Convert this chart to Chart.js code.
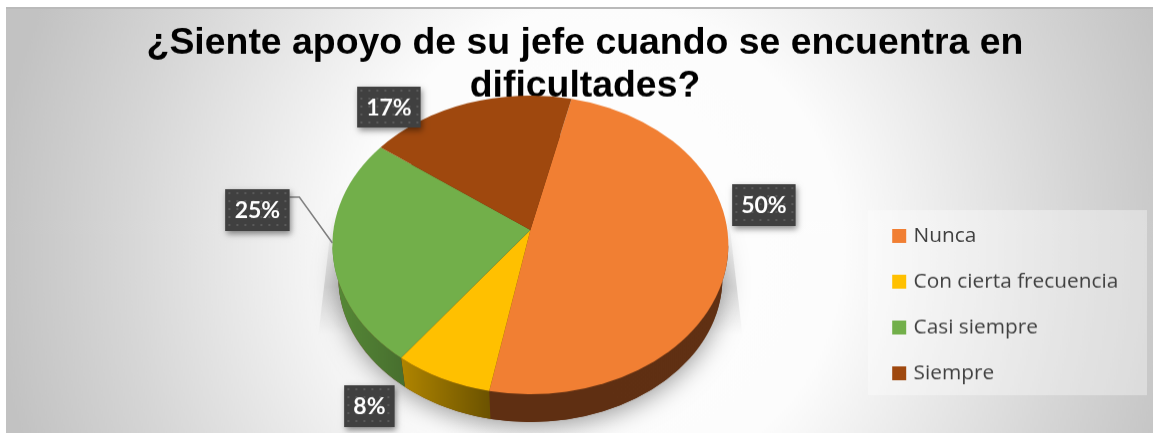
<!DOCTYPE html>
<html>
<head>
<meta charset="utf-8">
<title>Apoyo del jefe</title>
<script src="https://cdn.jsdelivr.net/npm/chart.js@4"></script>
<style>
    html, body { margin: 0; background: #fff; overflow: hidden; }
    #chart { position: absolute; left: 6px; top: 7px; border-top: 2px solid #bababa; }
</style>
</head>
<body>
<canvas id="chart" width="1147" height="426"></canvas>
<script>
const titleLines = ['¿Siente apoyo de su jefe cuando se encuentra en', 'dificultades?'];
const categories = ['Nunca', 'Con cierta frecuencia', 'Casi siempre', 'Siempre'];
const percentages = [50, 8, 25, 17];
const sliceColors = ['#f17f33', '#ffc000', '#72af4a', '#9f480e'];
const wallColors = [['#5f2f12', '#603013'], ['#b08500', '#6c5300'], ['#578a37', '#48702f'], ['#5f2f12', '#5f2f12']];

// label box offsets from the pie centre
const labelBoxes = [
    { dx: 202, dy: -61, w: 63, h: 42 },
    { dx: -186, dy: 141, w: 50, h: 42 },
    { dx: -305, dy: -56, w: 64, h: 42 },
    { dx: -173, dy: -159, w: 63, h: 41 }
];

// the tilted pie, as fractions of the radius the library computes
const tilt = { faceRx: 1.404, faceRy: 1.064, apexY: -0.106, baseY: 0.234, baseRx: 1.362, baseRy: 1.028 };

const ctx = document.querySelector('#chart').getContext('2d');

function dotPattern() {
    const tile = document.createElement('canvas');
    tile.width = tile.height = 8;
    const t = tile.getContext('2d');
    t.fillStyle = '#404040';
    t.fillRect(0, 0, 8, 8);
    t.fillStyle = '#5a5a5a';
    t.fillRect(3, 3, 2, 2);
    return ctx.createPattern(tile, 'repeat');
}

function drawBackground(chart) {
    const c = chart.ctx;
    const bg = c.createRadialGradient(594, 241, 0, 594, 241, 610);
    bg.addColorStop(0, '#ffffff');
    bg.addColorStop(0.4, '#fcfcfc');
    bg.addColorStop(0.78, '#d6d6d6');
    bg.addColorStop(1, '#c2c2c2');
    c.fillStyle = bg;
    c.fillRect(0, 0, chart.width, chart.height);
    c.fillStyle = 'rgba(255,255,255,0.35)';
    c.fillRect(862, 202, 279, 186);
}

function drawWalls(c, arcs, cx, cy, r) {
    const baseCy = cy + tilt.baseY * r;
    arcs.forEach((arc, i) => {
        const from = Math.max(arc.startAngle, 0);
        const to = Math.min(arc.endAngle, Math.PI);
        if (to <= from) return;
        const x0 = cx + tilt.faceRx * r * Math.cos(to);
        const x1 = cx + tilt.faceRx * r * Math.cos(from);
        const wall = c.createLinearGradient(x0, 0, x1, 0);
        wall.addColorStop(0, wallColors[i][0]);
        wall.addColorStop(1, wallColors[i][1]);
        c.beginPath();
        c.ellipse(cx, cy, tilt.faceRx * r, tilt.faceRy * r, 0, from, to);
        c.ellipse(cx, baseCy, tilt.baseRx * r, tilt.baseRy * r, 0, to, from, true);
        c.closePath();
        c.fillStyle = wall;
        c.fill();
    });
}

function drawPieShadow(c, cx, cy, r) {
    const baseCy = cy + tilt.baseY * r;
    const fade = c.createLinearGradient(0, cy - 30, 0, cy + 90);
    fade.addColorStop(0, 'rgba(0,0,0,0)');
    fade.addColorStop(0.6, 'rgba(0,0,0,0.12)');
    fade.addColorStop(1, 'rgba(0,0,0,0)');
    c.fillStyle = fade;
    c.beginPath();
    c.moveTo(cx - tilt.faceRx * r, cy - 30);
    c.lineTo(cx - tilt.faceRx * r - 14, cy + 90);
    c.lineTo(cx + tilt.faceRx * r + 14, cy + 90);
    c.lineTo(cx + tilt.faceRx * r, cy - 30);
    c.closePath();
    c.fill();

    c.save();
    c.shadowColor = 'rgba(0,0,0,0.38)';
    c.shadowBlur = 24;
    c.shadowOffsetY = 5;
    c.fillStyle = '#5f2f12';
    c.beginPath();
    c.ellipse(cx, baseCy, tilt.baseRx * r, tilt.baseRy * r, 0, 0, Math.PI * 2);
    c.fill();
    c.restore();
}

function drawLabels(c, cx, cy) {
    // leader line of the 25% label
    c.strokeStyle = '#7f7f7f';
    c.lineWidth = 1.5;
    c.beginPath();
    c.moveTo(cx - 241, cy - 48);
    c.lineTo(cx - 231, cy - 48);
    c.lineTo(cx - 198, cy - 2);
    c.stroke();

    const dots = dotPattern();
    percentages.forEach((value, i) => {
        const b = labelBoxes[i];
        const x = cx + b.dx;
        const y = cy + b.dy;
        c.save();
        c.shadowColor = 'rgba(0,0,0,0.45)';
        c.shadowBlur = 6;
        c.shadowOffsetX = 2;
        c.shadowOffsetY = 3;
        c.fillStyle = '#404040';
        c.fillRect(x, y, b.w, b.h);
        c.restore();
        c.save();
        c.translate(x, y);
        c.fillStyle = dots;
        c.fillRect(0, 0, b.w, b.h);
        c.restore();
        c.fillStyle = '#ffffff';
        c.font = 'bold 23px Lato';
        c.textAlign = 'center';
        c.textBaseline = 'middle';
        c.fillText(value + '%', x + b.w / 2, y + b.h / 2 + 1);
    });
}

const tiltedPie = {
    id: 'tiltedPie',
    beforeDraw: drawBackground,
    afterLayout(chart) {
        // title and legend sit independently of the pie's area
        chart.titleBlock.left = 0;
        chart.titleBlock.right = 1158;
        chart.legend.left = 864;
        chart.legend.top = 192.5;
        chart.legend.bottom = chart.height;
    },
    beforeDatasetsDraw(chart) {
        const arcs = chart.getDatasetMeta(0).data;
        const { x: cx, y: cy, outerRadius: r } = arcs[0];
        const c = chart.ctx;
        const apexY = cy + tilt.apexY * r;
        c.save();
        drawPieShadow(c, cx, cy, r);
        drawWalls(c, arcs, cx, cy, r);
        arcs.forEach((arc, i) => {
            c.beginPath();
            c.moveTo(cx, apexY);
            c.ellipse(cx, cy, tilt.faceRx * r, tilt.faceRy * r, 0, arc.startAngle, arc.endAngle);
            c.closePath();
            c.fillStyle = sliceColors[i];
            c.fill();
        });
        c.restore();
        return false;
    },
    afterDraw(chart) {
        const { x: cx, y: cy } = chart.getDatasetMeta(0).data[0];
        chart.ctx.save();
        drawLabels(chart.ctx, cx, cy);
        chart.ctx.restore();
    }
};

new Chart(ctx, {
    type: 'pie',
    data: {
        labels: categories,
        datasets: [{
            data: percentages,
            backgroundColor: sliceColors,
            borderWidth: 0,
            rotation: 12
        }]
    },
    options: {
        responsive: false,
        animation: false,
        layout: { padding: { left: 160, bottom: 48 } },
        plugins: {
            tooltip: { enabled: false },
            title: {
                display: true,
                text: titleLines,
                color: '#000000',
                font: { family: 'Liberation Sans', size: 37.4, weight: 'bold', lineHeight: 1.15 },
                padding: { top: 13, bottom: -3 }
            },
            legend: {
                position: 'right',
                align: 'start',
                labels: {
                    boxWidth: 8,
                    boxHeight: 8,
                    padding: 25.2,
                    color: '#404040',
                    font: { family: 'Open Sans', size: 20.8 },
                    generateLabels(chart) {
                        return Chart.overrides.pie.plugins.legend.labels.generateLabels(chart).map(item => ({
                            ...item,
                            strokeStyle: item.fillStyle,
                            lineWidth: 6
                        }));
                    }
                }
            }
        }
    },
    plugins: [tiltedPie]
});
</script>
</body>
</html>
